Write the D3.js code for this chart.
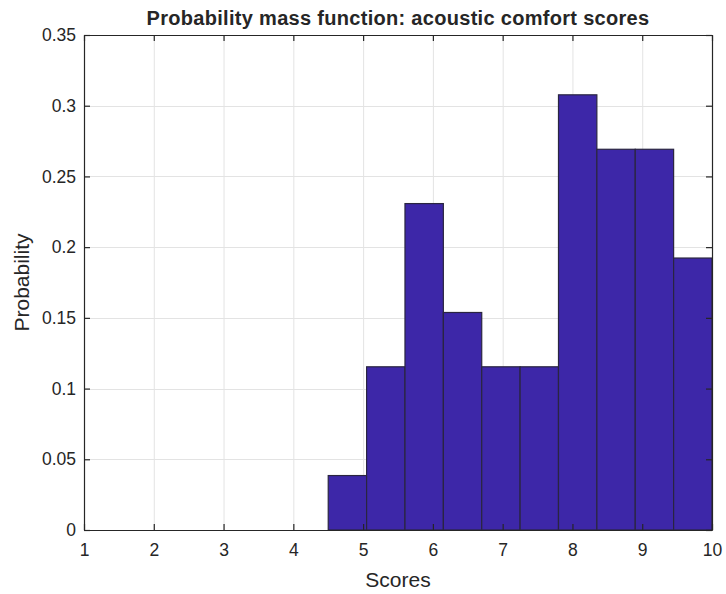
<!DOCTYPE html>
<html>
<head>
<meta charset="utf-8">
<script src="https://cdn.jsdelivr.net/npm/d3@7"></script>
<style>
  body { margin: 0; background: #fff; }
  text { font-family: "Liberation Sans", Arial, sans-serif; fill: #262626; }
</style>
</head>
<body>
<div id="chart"></div>
<script>
// DATA
const binEdges = [4.5, 5.05, 5.6, 6.15, 6.7, 7.25, 7.8, 8.35, 8.9, 9.45, 10];
const probs = [0.0385, 0.1154, 0.2308, 0.1538, 0.1154, 0.1154, 0.3077, 0.2692, 0.2692, 0.1923];
const xTicks = [1, 2, 3, 4, 5, 6, 7, 8, 9, 10];
const yTicks = [0, 0.05, 0.1, 0.15, 0.2, 0.25, 0.3, 0.35];

const width = 726, height = 594;
const margin = {top: 35, right: 14, bottom: 64, left: 84};

const svg = d3.select("#chart").append("svg")
    .attr("width", width)
    .attr("height", height);

// SCALES
const xScale = d3.scaleLinear().domain([1, 10]).range([margin.left, width - margin.right]);
const yScale = d3.scaleLinear().domain([0, 0.35]).range([height - margin.bottom, margin.top]);

// GRID
svg.append("g").selectAll("line")
  .data(xTicks.slice(1, -1))
  .join("line")
    .attr("x1", d => xScale(d) + 0.5).attr("x2", d => xScale(d) + 0.5)
    .attr("y1", yScale(0)).attr("y2", yScale(0.35))
    .attr("stroke", "#e3e3e3");
svg.append("g").selectAll("line")
  .data(yTicks.slice(1, -1))
  .join("line")
    .attr("x1", xScale(1)).attr("x2", xScale(10))
    .attr("y1", d => Math.round(yScale(d)) + 0.5).attr("y2", d => Math.round(yScale(d)) + 0.5)
    .attr("stroke", "#e3e3e3");

// BARS
const bins = probs.map((p, i) => ({x0: binEdges[i], x1: binEdges[i + 1], p: p}));
svg.append("g").selectAll("rect")
  .data(bins)
  .join("rect")
    .attr("x", d => xScale(d.x0))
    .attr("y", d => yScale(d.p))
    .attr("width", d => xScale(d.x1) - xScale(d.x0))
    .attr("height", d => yScale(0) - yScale(d.p))
    .attr("fill", "#3d27a8")
    .attr("stroke", "#2a2540")
    .attr("stroke-width", 1.2);

// AXES (MATLAB style: ticks inside, box on all sides)
const xAxis = d3.axisBottom(xScale).tickValues(xTicks).tickSizeInner(-6).tickSizeOuter(0).tickPadding(14);
const yAxis = d3.axisLeft(yScale).tickValues(yTicks).tickSizeInner(-6).tickSizeOuter(0).tickPadding(8)
    .tickFormat(d => String(+d.toFixed(2)));

const gx = svg.append("g")
    .attr("transform", `translate(0,${yScale(0)})`)
    .call(xAxis);
const gy = svg.append("g")
    .attr("transform", `translate(${xScale(1)},0)`)
    .call(yAxis);
svg.append("g")
    .attr("transform", `translate(0,${yScale(0.35)})`)
    .call(d3.axisTop(xScale).tickValues(xTicks).tickSizeInner(-6).tickSizeOuter(0).tickFormat(""));
svg.append("g")
    .attr("transform", `translate(${xScale(10)},0)`)
    .call(d3.axisRight(yScale).tickValues(yTicks).tickSizeInner(-6).tickSizeOuter(0).tickFormat(""));

svg.selectAll(".domain, .tick line").attr("stroke", "#262626").attr("stroke-width", 1.2);
svg.selectAll(".tick text").attr("font-size", 17.5).attr("fill", "#262626")
    .style("font-family", "'Liberation Sans', Arial, sans-serif");

// LABELS
svg.append("text")
    .attr("x", (xScale(1) + xScale(10)) / 2)
    .attr("y", 25)
    .attr("text-anchor", "middle")
    .attr("font-size", 20)
    .attr("font-weight", "bold")
    .style("letter-spacing", "0.3px")
    .text("Probability mass function: acoustic comfort scores");

svg.append("text")
    .attr("x", (xScale(1) + xScale(10)) / 2)
    .attr("y", 587)
    .attr("text-anchor", "middle")
    .attr("font-size", 21)
    .text("Scores");

svg.append("text")
    .attr("transform", `translate(28.5,${(yScale(0) + yScale(0.35)) / 2}) rotate(-90)`)
    .attr("text-anchor", "middle")
    .attr("font-size", 21)
    .text("Probability");
</script>
</body>
</html>
